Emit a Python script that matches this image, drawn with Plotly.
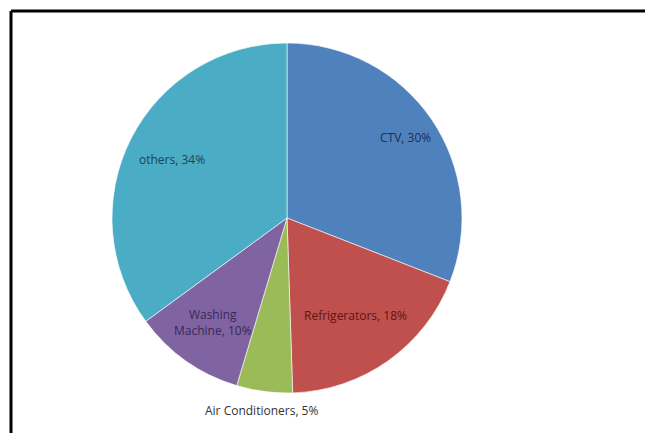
import math
import plotly.graph_objects as go

categories = ["CTV", "Refrigerators", "Air Conditioners", "Washing Machine", "others"]
values = [30, 18, 5, 10, 34]
label_texts = ["CTV, 30%", "Refrigerators, 18%", "Air Conditioners, 5%", "Washing<br>Machine, 10%", "others, 34%"]

# styling
slice_colors = ["#4F81BD", "#C0504D", "#9BBB59", "#8064A2", "#4BACC6"]
text_colors = ["#1B2F52", "#5A1714", "#333333", "#3A2758", "#1C4552"]
label_radius_frac = [0.82, 0.68, 1.11, 0.73, 0.74]

W, H = 653, 433
OFF = 8  # page body margin
cx, cy, r = 287 - OFF, 218 - OFF, 175

fig = go.Figure(go.Pie(
    labels=categories,
    values=values,
    textinfo="none",
    sort=False,
    direction="clockwise",
    rotation=0,
    marker=dict(colors=slice_colors, line=dict(color="rgba(255,255,255,0.6)", width=1)),
    showlegend=False,
    hoverinfo="label+percent",
    domain=dict(x=[(cx - r) / W, (cx + r) / W], y=[(H - cy - r) / H, (H - cy + r) / H]),
))

# label placement computed from the slice mid-angles
total = sum(values)
annotations = []
cum = 0
for lab, v, col, frac in zip(label_texts, values, text_colors, label_radius_frac):
    mid = (cum + v / 2) / total * 2 * math.pi
    cum += v
    d = frac * r
    px = cx + d * math.sin(mid)
    py = cy - d * math.cos(mid)
    annotations.append(dict(
        x=px / W, y=1 - py / H, xref="paper", yref="paper",
        text=lab, showarrow=False, xanchor="center", yanchor="middle",
        font=dict(family="Open Sans, Liberation Sans, sans-serif", size=12, color=col),
    ))

fig.update_layout(
    width=W, height=H,
    margin=dict(l=0, r=0, t=0, b=0),
    paper_bgcolor="white",
    plot_bgcolor="white",
    annotations=annotations,
    shapes=[
        dict(type="line", xref="paper", yref="paper", x0=3 / W, x1=3 / W, y0=0, y1=(H - 3) / H,
             line=dict(color="black", width=3)),
        dict(type="line", xref="paper", yref="paper", x0=3 / W, x1=1, y0=(H - 3) / H, y1=(H - 3) / H,
             line=dict(color="black", width=3)),
    ],
)

fig.write_html("out.html")
